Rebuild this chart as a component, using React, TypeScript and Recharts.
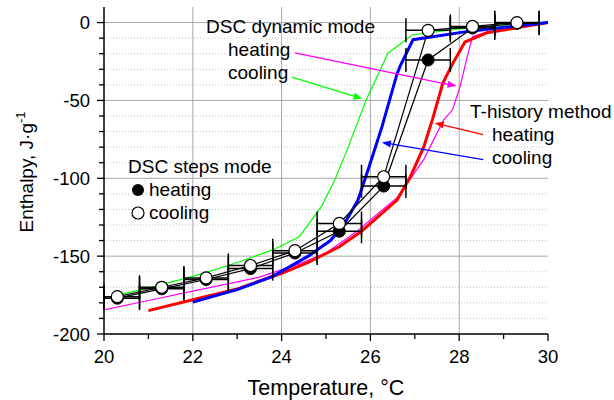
import React from "react";
import {
  ComposedChart,
  Line,
  Scatter,
  ErrorBar,
  XAxis,
  YAxis,
  ReferenceLine,
  ReferenceArea,
} from "recharts";

const FONT = '"Liberation Sans", Arial, sans-serif';

// DSC steps mode, one point per degree, ±0.5 °C bars
const stepTemps = [20.3, 21.3, 22.3, 23.3, 24.3, 25.3, 26.3, 27.3, 28.3, 29.3];
const stepHeating = [-177, -171, -165, -158, -148, -134, -105, -24, -3.5, -0.5];
const stepCooling = [-176, -170, -164, -156, -146.5, -129, -99, -5, -2.5, 0];
const stepErr = 0.5;

// DSC dynamic mode
const dynHeatT = [20, 21, 22, 23, 23.5, 24.4, 25, 25.7, 26.2, 26.6, 27.2, 27.65, 27.85, 28.02, 28.18, 28.3, 28.65, 29.5, 30];
const dynHeatH = [-184.5, -178.5, -172.5, -166.5, -163.5, -155, -148, -134, -122, -112.5, -88, -62.5, -56, -41, -22, -9, -6, -2.5, 0];
const dynCoolT = [20, 21, 22, 22.8, 23.8, 24.4, 24.9, 25.2, 25.5, 25.9, 26.4, 26.94, 28, 30];
const dynCoolH = [-177, -170.5, -163, -156, -146, -137.5, -118, -101, -80, -50, -19.5, -8, -4, 0];

// T-history method
const thHeatT = [21, 22, 23, 24, 24.6, 25.3, 25.8, 26.6, 26.9, 27.2, 27.4, 27.63, 27.84, 28.13, 28.63, 30];
const thHeatH = [-185, -178, -171, -161, -154, -144, -134, -114, -99, -80, -62, -39, -27, -12.5, -6.5, 0];
const thCoolT = [22, 23, 23.8, 24.6, 25.1, 25.4, 25.72, 26.0, 26.26, 26.6, 26.67, 26.96, 28.24, 30];
const thCoolH = [-179.5, -171.5, -163, -150, -140, -130, -114, -90, -67, -33, -28, -11, -5.5, 0];

const xMin = 20;
const xMax = 30;
const xTicks = [20, 21, 22, 23, 24, 25, 26, 27, 28, 29, 30];
const yTicks = [-200, -190, -180, -170, -160, -150, -140, -130, -120, -110, -100, -90, -80, -70, -60, -50, -40, -30, -20, -10, 0];
const majorX = [22, 24, 26, 28];
const majorY = [-150, -100, -50, 0];
const minorY = [-190, -180, -170, -160, -140, -130, -120, -110, -90, -80, -70, -60, -40, -30, -20, -10];

// white boxes behind the annotation texts (data coords)
const boxes = [
  { x1: 22.25, x2: 24.4, y1: -39, y2: 7 },
  { x1: 24.4, x2: 26.13, y1: -7, y2: 5 },
  { x1: 28.24, x2: 31.5, y1: -96, y2: -46 },
  { x1: 20.52, x2: 23.85, y1: -127, y2: -82 },
];

const arrows = [
  { from: [24.3, -19.5], to: [27.94, -40.8], color: "#ff00ff" },
  { from: [24.23, -35], to: [25.82, -49], color: "#00ff00" },
  { from: [28.54, -72], to: [27.45, -64.5], color: "#ff0000" },
  { from: [28.54, -88], to: [26.26, -77], color: "#0000ff" },
];

const zip = (t: number[], h: number[]) => t.map((T, i) => ({ T, H: h[i] }));

// error bars are cut at the plot edges, like the original
const barOf = (T: number) => [Math.min(stepErr, T - xMin), Math.min(stepErr, xMax - T)];
const stepHeatData = stepTemps.map((T, i) => ({ T, H: stepHeating[i], e: barOf(T) }));
const stepCoolData = stepTemps.map((T, i) => ({ T, H: stepCooling[i], e: barOf(T) }));

const XTick = (props: any) => {
  const { x, y, payload } = props;
  const major = payload.value % 2 === 0;
  return (
    <g>
      <line x1={x} x2={x} y1={y} y2={y + (major ? 7 : 5)} stroke="#000" strokeWidth={1.3} />
      {major && (
        <text x={x} y={y + 29} textAnchor="middle" fontSize={18.5} fontFamily={FONT} fill="#000">
          {payload.value}
        </text>
      )}
    </g>
  );
};

const YTick = (props: any) => {
  const { x, y, payload } = props;
  const major = payload.value % 50 === 0;
  return (
    <g>
      <line x1={x - (major ? 7 : 5)} x2={x} y1={y} y2={y} stroke="#000" strokeWidth={1.3} />
      {major && (
        <text x={x - 14} y={y} dy={6.5} textAnchor="end" fontSize={18.5} fontFamily={FONT} fill="#000">
          {payload.value}
        </text>
      )}
    </g>
  );
};

const arrowShape = (color: string) => (p: any) => {
  const { x1, y1, x2, y2 } = p;
  const a = Math.atan2(y2 - y1, x2 - x1);
  const L = 9;
  const W = 3.5;
  const bx = x2 - L * Math.cos(a);
  const by = y2 - L * Math.sin(a);
  const pts = `${x2},${y2} ${bx - W * Math.sin(a)},${by + W * Math.cos(a)} ${bx + W * Math.sin(a)},${by - W * Math.cos(a)}`;
  return (
    <g>
      <line x1={x1} y1={y1} x2={bx} y2={by} stroke={color} strokeWidth={1.3} />
      <polygon points={pts} fill={color} />
    </g>
  );
};

const openDot = (p: any) => <circle cx={p.cx} cy={p.cy} r={6} fill="#fff" stroke="#000" strokeWidth={1.2} />;
const fullDot = (p: any) => <circle cx={p.cx} cy={p.cy} r={6} fill="#000" stroke="#000" />;

export default function App() {
  return (
    <div style={{ position: "absolute", left: 0, top: 0, width: 614, height: 400, background: "#fff" }}>
      <ComposedChart width={614} height={400} margin={{ top: 7, right: 66, bottom: 0, left: 0 }}>
        <XAxis
          dataKey="T"
          type="number"
          domain={[xMin, xMax]}
          allowDataOverflow
          ticks={xTicks}
          interval={0}
          height={66}
          tickSize={0}
          tickMargin={0}
          tickLine={false}
          tick={<XTick />}
          axisLine={{ stroke: "#000", strokeWidth: 1.5 }}
        />
        <YAxis
          type="number"
          domain={[-200, 10]}
          ticks={yTicks}
          interval={0}
          width={104}
          tickSize={0}
          tickMargin={0}
          tickLine={false}
          tick={<YTick />}
          axisLine={{ stroke: "#000", strokeWidth: 1.5 }}
        />
        {minorY.map((v) => (
          <ReferenceLine key={"my" + v} y={v} stroke="#c4c4c4" strokeDasharray="1 2" />
        ))}
        {majorY.map((v) => (
          <ReferenceLine key={"My" + v} y={v} stroke="#a8a8a8" strokeWidth={1} />
        ))}
        {majorX.map((v) => (
          <ReferenceLine key={"Mx" + v} x={v} stroke="#a8a8a8" strokeWidth={1} />
        ))}
        {boxes.map((b, i) => (
          <ReferenceArea key={"b" + i} {...b} fill="#fff" fillOpacity={1} stroke="none" ifOverflow="visible" />
        ))}
        <Line data={zip(dynHeatT, dynHeatH)} dataKey="H" type="linear" stroke="#ff00ff" strokeWidth={1.2} dot={false} isAnimationActive={false} />
        <Line data={zip(dynCoolT, dynCoolH)} dataKey="H" type="linear" stroke="#00ff00" strokeWidth={1.2} dot={false} isAnimationActive={false} />
        <Line data={zip(thHeatT, thHeatH)} dataKey="H" type="linear" stroke="#ff0000" strokeWidth={3} dot={false} isAnimationActive={false} />
        <Line data={zip(thCoolT, thCoolH)} dataKey="H" type="linear" stroke="#0000ff" strokeWidth={3} dot={false} isAnimationActive={false} />
        <Line data={stepHeatData} dataKey="H" type="linear" stroke="#000" strokeWidth={1.2} dot={false} isAnimationActive={false} />
        <Line data={stepCoolData} dataKey="H" type="linear" stroke="#000" strokeWidth={1.2} dot={false} isAnimationActive={false} />
        <Scatter data={stepHeatData} dataKey="H" shape={fullDot} isAnimationActive={false}>
          <ErrorBar dataKey="e" direction="x" width={12} stroke="#000" strokeWidth={1.5} />
        </Scatter>
        <Scatter data={stepCoolData} dataKey="H" shape={openDot} isAnimationActive={false}>
          <ErrorBar dataKey="e" direction="x" width={12} stroke="#000" strokeWidth={1.5} />
        </Scatter>
        {arrows.map((a, i) => (
          <ReferenceLine
            key={"a" + i}
            segment={[
              { x: a.from[0], y: a.from[1] },
              { x: a.to[0], y: a.to[1] },
            ]}
            stroke={a.color}
            shape={arrowShape(a.color)}
          />
        ))}
      </ComposedChart>
      <svg
        width={614}
        height={400}
        style={{ position: "absolute", left: 0, top: 0, pointerEvents: "none" }}
        fontFamily={FONT}
        fontSize={19}
      >
        <text x={206} y={33}>DSC dynamic mode</text>
        <text x={228} y={56}>heating</text>
        <text x={228} y={79}>cooling</text>
        <text x={470} y={118}>T-history method</text>
        <text x={492} y={141}>heating</text>
        <text x={492} y={164}>cooling</text>
        <text x={128} y={173}>DSC steps mode</text>
        <circle cx={138} cy={190} r={6} fill="#000" />
        <text x={149} y={196}>heating</text>
        <circle cx={138} cy={213} r={6} fill="#fff" stroke="#000" strokeWidth={1.2} />
        <text x={149} y={219}>cooling</text>
        <text x={326} y={395} textAnchor="middle" fontSize={21.5}>
          Temperature, °C
        </text>
        <text transform="translate(33,172) rotate(-90)" textAnchor="middle" fontSize={19}>
          Enthalpy, J·g
          <tspan dy={-8} fontSize={13}>
            -1
          </tspan>
        </text>
      </svg>
    </div>
  );
}
